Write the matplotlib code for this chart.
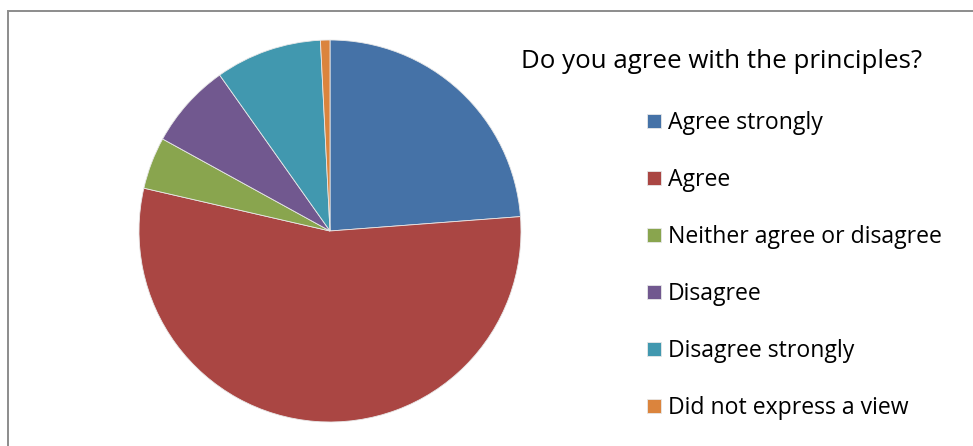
import matplotlib.pyplot as plt
from matplotlib.patches import Rectangle

plt.rcParams['font.family'] = ['Open Sans', 'DejaVu Sans']

labels = ["Agree strongly", "Agree", "Neither agree or disagree",
          "Disagree", "Disagree strongly", "Did not express a view"]
shares = [23.8, 54.8, 4.4, 7.2, 9.0, 0.8]
colors = ["#4572A7", "#AA4643", "#89A54E", "#71588F", "#4198AF", "#DB843D"]
title = "Do you agree with the principles?"

W, H = 973, 446
f = plt.figure(figsize=(W / 100, H / 100), dpi=100)

# chart frame
f.patches.append(Rectangle((8 / W, -0.01), 1.1, (H - 11) / H + 0.01,
                           transform=f.transFigure, fill=False,
                           edgecolor="#8c8c8c", lw=1.4))

ax = f.add_axes([139 / W, 24 / H, 382 / W, 382 / H])
wedges, _ = ax.pie(shares, colors=colors, startangle=90, counterclock=False,
                   radius=1, wedgeprops=dict(edgecolor="#e8e8e8", lw=0.6))
ax.set_xlim(-1, 1)
ax.set_ylim(-1, 1)
ax.set_aspect("auto")
ax.axis("off")

f.text(521 / W, 1 - 62 / H, title, fontsize=18.6, va="center", ha="left")

f.legend(wedges, labels, loc="upper left",
         bbox_to_anchor=(638 / W, 1 - 102 / H), frameon=False,
         fontsize=16.6, handlelength=0.6, handleheight=0.6,
         handletextpad=0.3, labelspacing=1.43, borderaxespad=0)

f.savefig("out.png", dpi=100)
